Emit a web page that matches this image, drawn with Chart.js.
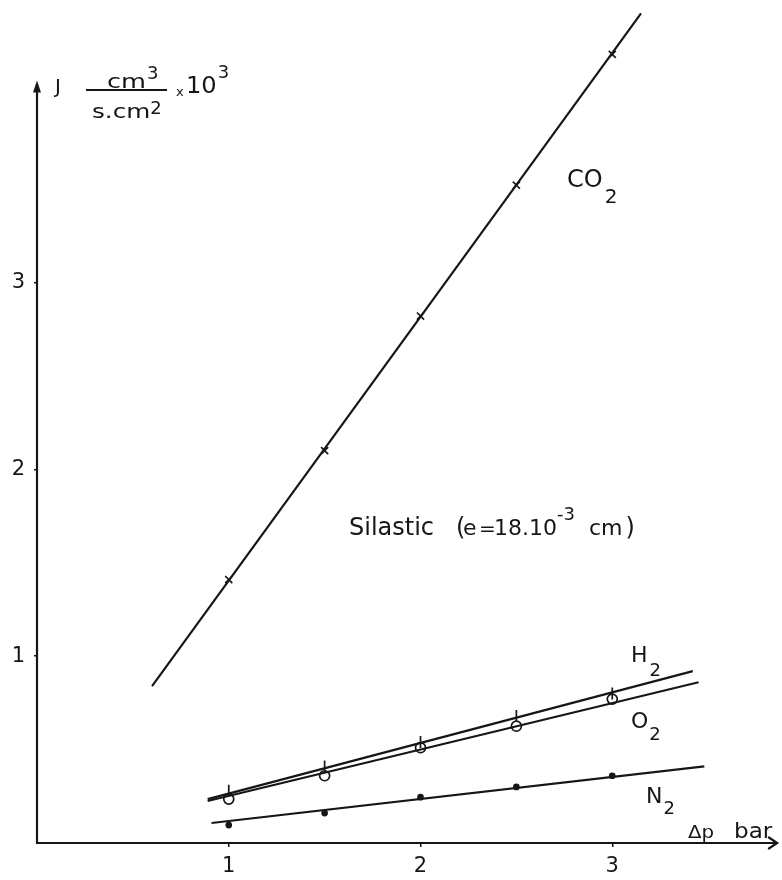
<!DOCTYPE html>
<html>
<head>
<meta charset="utf-8">
<script src="https://cdn.jsdelivr.net/npm/chart.js@4/dist/chart.umd.min.js"></script>
<style>
  html, body { margin: 0; padding: 0; background: #ffffff; }
  #wrap { width: 782px; height: 880px; }
</style>
</head>
<body>
<div id="wrap"><canvas id="c" width="782" height="880"></canvas></div>
<script>
// ---- data ----
const pressures = [1, 1.5, 2, 2.5, 3];            // Δp (bar)
const co2Flux = [1.41, 2.10, 2.82, 3.52, 4.22];     // J x10^3
const h2Flux  = [0.28, 0.41, 0.54, 0.68, 0.80];
const o2Flux  = [0.235, 0.36, 0.51, 0.625, 0.77];
const n2Flux  = [0.096, 0.16, 0.245, 0.30, 0.36];

// drawn fitted lines (start / end)
const co2FitX = [0.60, 3.15];  const co2FitY = [0.84, 4.44];
const h2FitX  = [0.89, 3.42];  const h2FitY  = [0.235, 0.92];
const o2FitX  = [0.89, 3.45];  const o2FitY  = [0.225, 0.86];
const n2FitX  = [0.91, 3.48];  const n2FitY  = [0.107, 0.41];

const xTicks = [1, 2, 3];
const yTicks = [1, 2, 3];

const FONT = "'DejaVu Sans', 'Noto Sans', sans-serif";
const INK = '#161616';

const pts = (xs, ys) => xs.map((x, i) => ({ x: x, y: ys[i] }));

const fit = (xs, ys) => ({
  type: 'line', data: pts(xs, ys), borderColor: INK, borderWidth: 2.2,
  pointRadius: 0, fill: false, tension: 0
});
const marks = (ys, style, radius, extra) => Object.assign({
  type: 'scatter', data: pts(pressures, ys), pointStyle: style,
  pointRadius: radius, borderColor: INK, backgroundColor: 'rgba(0,0,0,0)',
  pointBorderWidth: 1.7, showLine: false
}, extra || {});

const noPad = s => { s.paddingTop = 0; s.paddingBottom = 0; s.paddingLeft = 0; s.paddingRight = 0; };

const annotations = {
  id: 'annotations',
  afterDraw(chart) {
    const ctx = chart.ctx;
    const xs = chart.scales.x, ys = chart.scales.y;
    const X = v => xs.getPixelForValue(v), Y = v => ys.getPixelForValue(v);
    ctx.save();
    ctx.strokeStyle = INK; ctx.fillStyle = INK; ctx.lineWidth = 2.2;
    // y axis with arrow
    const x0 = X(0), y0 = Y(0);
    const yTop = Y(4.08);
    ctx.beginPath(); ctx.moveTo(x0, y0 + 1); ctx.lineTo(x0, yTop + 4); ctx.stroke();
    ctx.beginPath(); ctx.moveTo(x0, yTop); ctx.lineTo(x0 - 4, yTop + 12); ctx.lineTo(x0 + 4, yTop + 12); ctx.closePath(); ctx.fill();
    // x axis with arrow
    const xEnd = X(3.86);
    ctx.beginPath(); ctx.moveTo(x0 - 1, y0); ctx.lineTo(xEnd - 1, y0); ctx.stroke();
    ctx.beginPath(); ctx.moveTo(xEnd - 9, y0 - 6); ctx.lineTo(xEnd, y0); ctx.lineTo(xEnd - 9, y0 + 6); ctx.stroke();

    ctx.textBaseline = 'alphabetic'; ctx.textAlign = 'left';
    // text helper: returns right edge
    const t = (s, x, y, size, sx) => {
      sx = sx || 1;
      ctx.save();
      ctx.font = size + 'px ' + FONT;
      ctx.translate(x, y); ctx.scale(sx, 1); ctx.fillText(s, 0, 0);
      const w = ctx.measureText(s).width * sx;
      ctx.restore();
      return x + w;
    };

    // y-axis title
    t('J', 55, 93, 20);
    let e = t('cm', 107, 88, 19, 1.35); t('3', e + 1, 79, 18);
    ctx.lineWidth = 2; ctx.beginPath(); ctx.moveTo(86, 90); ctx.lineTo(167, 90); ctx.stroke();
    e = t('s.cm', 92, 118, 19, 1.3); t('2', e, 114, 18);
    t('x', 176, 96, 13);
    e = t('10', 186, 93, 23, 1.05); t('3', e + 1, 78, 18);

    // gas labels
    e = t('CO', 567, 187, 24); t('2', e + 2, 203, 20);
    e = t('H', 631, 662, 22);  t('2', e + 2, 676, 18);
    e = t('O', 631, 728, 22);  t('2', e + 1, 740, 18);
    e = t('N', 646, 803, 22);  t('2', e + 1, 814, 18);

    // membrane label
    t('Silastic', 349, 535, 24);
    t('(', 456, 535, 24);
    t('e', 463, 535, 22);
    t('=', 479, 535, 20);
    e = t('18.10', 494, 535, 22);
    t('-3', e, 520, 18);
    e = t('cm', 589, 535, 22);
    t(')', e + 3, 535, 24);

    // x-axis title
    t('Δp', 688, 838, 18, 1.1);
    t('bar', 734, 838, 21, 1.1);
    ctx.restore();
  }
};

new Chart(document.getElementById('c'), {
  data: {
    datasets: [
      fit(co2FitX, co2FitY), fit(h2FitX, h2FitY), fit(o2FitX, o2FitY), fit(n2FitX, n2FitY),
      marks(co2Flux, 'crossRot', 5),
      marks(h2Flux, 'line', 6, { rotation: 90 }),
      marks(o2Flux, 'circle', 5),
      marks(n2Flux, 'circle', 2.5, { backgroundColor: INK })
    ]
  },
  options: {
    responsive: false,
    devicePixelRatio: 1,
    animation: false,
    layout: { padding: { top: 0, left: 0, right: 1, bottom: 0 } },
    plugins: { legend: { display: false }, tooltip: { enabled: false } },
    scales: {
      x: {
        type: 'linear', min: 0, max: 3.845,
        afterBuildTicks: s => { s.ticks = xTicks.map(v => ({ value: v })); },
        afterFit: s => { s.height = 37; noPad(s); },
        border: { display: false },
        grid: { display: true, drawOnChartArea: false, tickLength: 4, color: INK, lineWidth: 1.5 },
        ticks: { autoSkip: false, maxRotation: 0, padding: 7, color: INK, font: { size: 21, family: FONT } }
      },
      y: {
        type: 'linear', min: 0, max: 4.47,
        afterBuildTicks: s => { s.ticks = yTicks.map(v => ({ value: v })); },
        afterFit: s => { s.width = 37; noPad(s); },
        border: { display: false },
        grid: { display: true, drawOnChartArea: false, tickLength: 3, color: INK, lineWidth: 1.5 },
        ticks: { autoSkip: false, padding: 9, color: INK, font: { size: 21, family: FONT } }
      }
    }
  },
  plugins: [annotations]
});
</script>
</body>
</html>
